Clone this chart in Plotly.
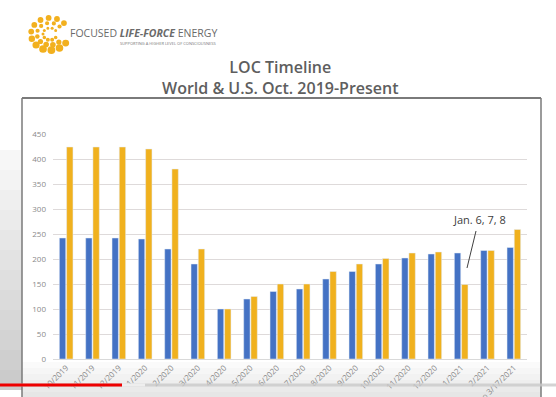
import math
import plotly.graph_objects as go

categories = ["10/2019", "11/2019", "12/2019", "1/2020", "2/2020", "3/2020",
              "4/2020", "5/2020", "6/2020", "7/2020", "8/2020", "9/2020",
              "10/2020", "11/2020", "12/2020", "1/2021", "2/2021", "to 3/17/2021"]
world = [242, 242, 242, 240, 220, 190, 100, 120, 135, 140, 160, 175,
         190, 202, 210, 212, 217, 223]
us = [424, 424, 424, 420, 380, 220, 100, 125, 150, 150, 175, 190,
      201, 212, 214, 149, 217, 259]
y_ticks = [0, 50, 100, 150, 200, 250, 300, 350, 400, 450]

BLUE = "#4472C4"
GOLD = "#F0B11E"

fig = go.Figure()
fig.add_trace(go.Bar(x=categories, y=world, name="World", marker_color=BLUE))
fig.add_trace(go.Bar(x=categories, y=us, name="U.S.", marker_color=GOLD))

W, H = 556, 397
L, R, T, B = 53, 29, 134, 38

def px(x):
    return (x - L) / (W - L - R)

def py(y):
    return (H - B - y) / (H - T - B)

shapes = []
# background video gradient areas (left strip and bottom strip)
for i in range(12):
    y0 = 150 + i * 20
    g = 247 - i * 4
    shapes.append(dict(type="rect", xref="paper", yref="paper",
                       x0=px(0), x1=px(22), y0=py(y0 + 20), y1=py(y0),
                       fillcolor=f"rgb({g},{g},{g})", line_width=0, layer="below"))
for i in range(6):
    y0 = 362 + i * 6
    g = 250 - i * 4
    shapes.append(dict(type="rect", xref="paper", yref="paper",
                       x0=px(22), x1=px(541), y0=py(y0 + 6), y1=py(y0),
                       fillcolor=f"rgb({g},{g},{g})", line_width=0, layer="below"))

# slide frame
shapes.append(dict(type="line", xref="paper", yref="paper", x0=px(22), x1=px(541),
                   y0=py(98), y1=py(98), line=dict(color="#7a7a7a", width=2)))
shapes.append(dict(type="line", xref="paper", yref="paper", x0=px(22), x1=px(22),
                   y0=py(98), y1=py(397), line=dict(color="#7a7a7a", width=1.5)))
shapes.append(dict(type="line", xref="paper", yref="paper", x0=px(541), x1=px(541),
                   y0=py(98), y1=py(397), line=dict(color="#7a7a7a", width=1.5)))
# video progress bar
shapes.append(dict(type="line", xref="paper", yref="paper", x0=px(0), x1=px(556),
                   y0=py(385), y1=py(385), line=dict(color="rgba(200,200,200,0.8)", width=3)))
shapes.append(dict(type="line", xref="paper", yref="paper", x0=px(122), x1=px(145),
                   y0=py(385), y1=py(385), line=dict(color="#eeeeee", width=3)))
shapes.append(dict(type="line", xref="paper", yref="paper", x0=px(0), x1=px(122),
                   y0=py(385), y1=py(385), line=dict(color="#ee0000", width=3)))

# logo sunburst dots
cx, cy = 50, 34
for ring, (r, s) in enumerate([(7, 1.5), (13, 2.1), (19, 2.9)]):
    n = 10 + ring * 2
    for k in range(n):
        a = 2 * math.pi * k / n + ring * 0.3
        x = cx + r * math.cos(a)
        y = cy + r * math.sin(a) * 0.85
        if math.cos(a) > 0.6 and -0.3 < math.sin(a) < 0.5:
            continue
        size = s * (1.0 + 0.35 * max(0, math.sin(a)))
        shapes.append(dict(type="circle", xref="paper", yref="paper",
                           x0=px(x - size), x1=px(x + size),
                           y0=py(y + size), y1=py(y - size),
                           fillcolor="#F2B01E", line_width=0))

annotations = [
    dict(text="LOC Timeline<br>World &amp; U.S. Oct. 2019-Present", x=px(280), y=py(78),
         xref="paper", yref="paper", showarrow=False,
         font=dict(family="Open Sans", size=16, color="#5e5e5e", weight=600),
         xanchor="center", yanchor="middle"),
    dict(text="FOCUSED <b><i>LIFE-FORCE</i></b> ENERGY", x=px(68), y=py(33),
         xref="paper", yref="paper", showarrow=False, xanchor="left", yanchor="middle",
         font=dict(family="Open Sans", size=10.5, color="#6a6a6a")),
    dict(text="SUPPORTING A HIGHER LEVEL OF CONSCIOUSNESS", x=px(118), y=py(43),
         xref="paper", yref="paper", showarrow=False, xanchor="left", yanchor="middle",
         font=dict(family="Open Sans", size=4, color="#777777")),
    dict(text="Jan. 6, 7, 8", x=px(479), y=py(219), xref="paper", yref="paper",
         showarrow=False, xanchor="center", yanchor="middle",
         font=dict(family="Open Sans", size=11, color="#404040")),
]
shapes.append(dict(type="line", xref="paper", yref="paper", x0=px(476), x1=px(467),
                   y0=py(231), y1=py(268), line=dict(color="#404040", width=1)))

fig.update_layout(
    width=W, height=H,
    margin=dict(l=L, r=R, t=T, b=B, autoexpand=False),
    paper_bgcolor="white", plot_bgcolor="white",
    barmode="group", bargap=0.45, bargroupgap=0.12,
    showlegend=False,
    shapes=shapes, annotations=annotations,
    font=dict(family="Open Sans", color="#7f7f7f"),
)
fig.update_yaxes(range=[0, 450], tickvals=y_ticks, showgrid=True,
                 gridcolor="#dedada", gridwidth=1, zeroline=False,
                 showline=False, ticks="", tickfont=dict(size=8, color="#8a8a8a"),
                 ticklabelstandoff=6, automargin=False)
fig.update_xaxes(type="category", tickangle=-45, showgrid=False, showline=True,
                 linecolor="#d9d9d9", ticks="", tickfont=dict(size=8, color="#8a8a8a"),
                 automargin=False)

fig.write_html("out.html", config={"displayModeBar": False},
               post_script="document.body.style.margin='0';document.body.style.overflow='hidden';")
